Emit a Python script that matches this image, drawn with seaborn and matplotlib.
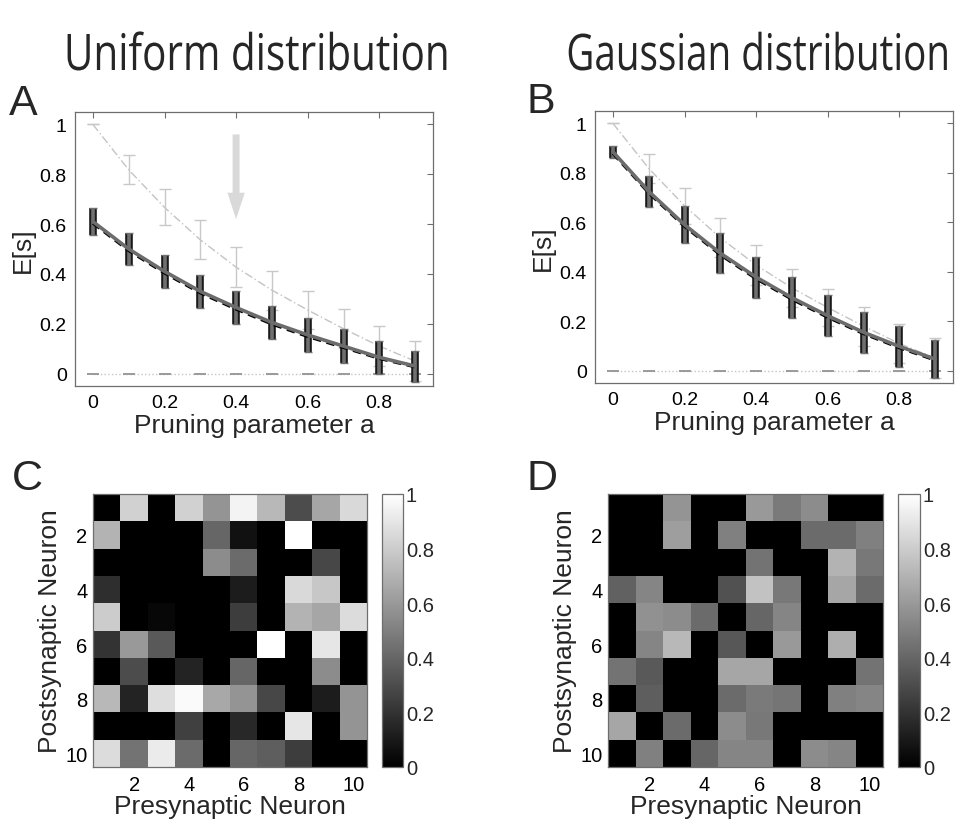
import matplotlib
matplotlib.use("Agg")
import matplotlib.pyplot as plt
import seaborn as sns
import numpy as np
from matplotlib.ticker import FuncFormatter
from matplotlib.patheffects import AbstractPathEffect
from matplotlib.transforms import Affine2D

# ---------------- data ----------------
pruning_a = [0.0, 0.1, 0.2, 0.3, 0.4, 0.5, 0.6, 0.7, 0.8, 0.9]

# light gray dash-dot reference curve (same in both panels)
ref_mean = [1.0, 0.818, 0.667, 0.537, 0.427, 0.335, 0.255, 0.18, 0.11, 0.05]
ref_err = [0.0, 0.058, 0.072, 0.079, 0.080, 0.078, 0.075, 0.079, 0.079, 0.080]

# zero baseline series
zero_mean = [0, 0, 0, 0, 0, 0, 0, 0, 0, 0]

# uniform distribution (panel A)
unif_solid = [0.61, 0.50, 0.41, 0.33, 0.265, 0.205, 0.155, 0.11, 0.065, 0.03]
unif_dashed = [0.603, 0.493, 0.403, 0.323, 0.258, 0.198, 0.148, 0.104, 0.060, 0.026]
unif_err = [0.053, 0.063, 0.067, 0.067, 0.068, 0.068, 0.070, 0.067, 0.066, 0.062]

# gaussian distribution (panel B)
gaus_solid = [0.885, 0.725, 0.59, 0.475, 0.378, 0.295, 0.222, 0.155, 0.098, 0.047]
gaus_dashed = [0.878, 0.718, 0.583, 0.468, 0.371, 0.288, 0.215, 0.149, 0.092, 0.042]
gaus_err = [0.024, 0.062, 0.075, 0.080, 0.083, 0.084, 0.083, 0.083, 0.083, 0.077]

x_ticks = [0, 0.2, 0.4, 0.6, 0.8]
y_ticks = [0, 0.2, 0.4, 0.6, 0.8, 1.0]

# weight matrices (rows: postsynaptic, cols: presynaptic)
uniform_W = [
    [0.00, 0.82, 0.00, 0.82, 0.58, 0.95, 0.72, 0.30, 0.65, 0.85],
    [0.70, 0.00, 0.00, 0.00, 0.40, 0.07, 0.00, 1.00, 0.00, 0.00],
    [0.00, 0.00, 0.00, 0.00, 0.55, 0.42, 0.00, 0.00, 0.28, 0.00],
    [0.18, 0.00, 0.00, 0.00, 0.00, 0.11, 0.00, 0.85, 0.78, 0.00],
    [0.80, 0.00, 0.03, 0.00, 0.00, 0.24, 0.00, 0.70, 0.65, 0.86],
    [0.20, 0.60, 0.35, 0.00, 0.00, 0.00, 1.00, 0.00, 0.90, 0.00],
    [0.00, 0.30, 0.00, 0.14, 0.00, 0.40, 0.00, 0.00, 0.55, 0.00],
    [0.72, 0.14, 0.87, 0.98, 0.66, 0.58, 0.28, 0.00, 0.11, 0.58],
    [0.00, 0.00, 0.00, 0.25, 0.00, 0.16, 0.00, 0.90, 0.00, 0.58],
    [0.86, 0.45, 0.92, 0.42, 0.00, 0.40, 0.37, 0.24, 0.00, 0.00],
]

gaussian_W = [
    [0.00, 0.00, 0.58, 0.00, 0.00, 0.60, 0.48, 0.55, 0.00, 0.00],
    [0.00, 0.00, 0.62, 0.00, 0.50, 0.00, 0.00, 0.42, 0.42, 0.50],
    [0.00, 0.00, 0.00, 0.00, 0.00, 0.45, 0.00, 0.00, 0.70, 0.47],
    [0.38, 0.52, 0.00, 0.00, 0.32, 0.76, 0.47, 0.00, 0.65, 0.42],
    [0.00, 0.57, 0.55, 0.42, 0.00, 0.40, 0.52, 0.00, 0.00, 0.00],
    [0.00, 0.52, 0.72, 0.00, 0.34, 0.00, 0.60, 0.00, 0.68, 0.00],
    [0.45, 0.35, 0.00, 0.00, 0.65, 0.65, 0.00, 0.00, 0.00, 0.45],
    [0.00, 0.37, 0.00, 0.00, 0.42, 0.48, 0.46, 0.00, 0.50, 0.52],
    [0.65, 0.00, 0.42, 0.00, 0.55, 0.47, 0.00, 0.00, 0.00, 0.00],
    [0.00, 0.50, 0.00, 0.40, 0.52, 0.52, 0.00, 0.55, 0.52, 0.00],
]
neuron_ticks = ["2", "4", "6", "8", "10"]
cbar_ticks = [0, 0.2, 0.4, 0.6, 0.8, 1.0]

titles = ["Uniform distribution", "Gaussian distribution"]
panel_letters = ["A", "B", "C", "D"]

# ---------------- style ----------------
sns.set_style("white")
plt.rcParams["font.family"] = ["Liberation Sans", "DejaVu Sans"]

SPINE = "#6e6e6e"
fmt = FuncFormatter(lambda v, p: "%g" % v)

fig = plt.figure(figsize=(9.73, 8.2), dpi=100)
W, H = 973.0, 820.0


def box(l, t, r, b):
    return [l / W, 1 - b / H, (r - l) / W, (b - t) / H]


def style_axes(ax):
    for s in ax.spines.values():
        s.set_visible(True)
        s.set_color(SPINE)
        s.set_linewidth(0.9)
    ax.tick_params(direction="in", length=4, width=0.8, color=SPINE,
                   top=True, right=True, labelsize=14, labelcolor="black",
                   pad=6)


def curve_panel(ax, solid, dashed, err, arrow=False):
    # reference curve
    sns.lineplot(x=pruning_a, y=ref_mean, ax=ax, color="#c4c4c4", lw=1.0,
                 linestyle=(0, (6, 2, 1, 2)), zorder=2)
    ax.errorbar(pruning_a, ref_mean, yerr=ref_err, fmt="none",
                ecolor="#c8c8c8", elinewidth=1.0, capsize=4, capthick=1.0,
                zorder=2)
    # zero baseline
    sns.lineplot(x=pruning_a, y=zero_mean, ax=ax, color="#c4c4c4", lw=1.0,
                 linestyle=":", zorder=2)
    ax.errorbar(pruning_a, zero_mean, yerr=[0] * len(pruning_a), fmt="none",
                ecolor="#9a9a9a", elinewidth=1.0, capsize=4, capthick=1.2,
                zorder=2)
    # simulation error bars
    ax.errorbar(pruning_a, solid, yerr=err, fmt="none", ecolor="#1a1a1a",
                elinewidth=5.5, capsize=0, zorder=3)
    ax.errorbar(pruning_a, solid, yerr=err, fmt="none", ecolor="#707070",
                elinewidth=2.6, capsize=3, capthick=1.0, zorder=4)
    # mean lines
    sns.lineplot(x=pruning_a, y=dashed, ax=ax, color="black", lw=2.0,
                 linestyle=(0, (3, 2)), zorder=5)
    sns.lineplot(x=pruning_a, y=solid, ax=ax, color="#6c6c6c", lw=2.6,
                 zorder=6)
    if arrow:
        ax.annotate("", xy=(0.4, 0.62), xytext=(0.4, 0.96),
                    arrowprops=dict(facecolor="#d9d9d9", edgecolor="none",
                                    width=5, headwidth=12.5, headlength=19),
                    zorder=7)
    ax.set_xlim(-0.05, 0.95)
    ax.set_ylim(-0.05, 1.05)
    ax.set_xticks(x_ticks)
    ax.set_yticks(y_ticks)
    ax.xaxis.set_major_formatter(fmt)
    ax.yaxis.set_major_formatter(fmt)
    ax.set_xlabel("Pruning parameter a", fontsize=19, labelpad=1)
    ax.set_ylabel("E[s]", fontsize=19, labelpad=3)
    style_axes(ax)


axA = fig.add_axes(box(75, 113, 433, 387))
curve_panel(axA, unif_solid, unif_dashed, unif_err, arrow=True)
axB = fig.add_axes(box(595, 112, 953, 384))
curve_panel(axB, gaus_solid, gaus_dashed, gaus_err)


def heat_panel(ax, cax, data):
    sns.heatmap(np.array(data), ax=ax, cbar_ax=cax, cmap="gray", vmin=0,
                vmax=1, xticklabels=False, yticklabels=False)
    pos = [1.5, 3.5, 5.5, 7.5, 9.5]
    ax.set_xticks(pos)
    ax.set_xticklabels(neuron_ticks)
    ax.set_yticks(pos)
    ax.set_yticklabels(neuron_ticks, rotation=0)
    ax.set_xlabel("Presynaptic Neuron", fontsize=19, labelpad=0)
    ax.set_ylabel("Postsynaptic Neuron", fontsize=19, labelpad=2)
    style_axes(ax)
    ax.tick_params(labelsize=14.5)
    ax.tick_params(axis="y", pad=4)
    cb = ax.collections[0].colorbar
    cb.outline.set_edgecolor(SPINE)
    cb.outline.set_linewidth(0.9)
    cb.set_ticks(cbar_ticks)
    cb.ax.yaxis.set_major_formatter(fmt)
    cax.tick_params(direction="in", length=4, width=0.8, color=SPINE,
                    left=True, right=True, labelsize=14.5, pad=2)


axC = fig.add_axes(box(93, 495, 367, 768))
caxC = fig.add_axes(box(382, 495, 403, 768))
heat_panel(axC, caxC, uniform_W)
axD = fig.add_axes(box(608, 495, 883, 768))
caxD = fig.add_axes(box(898, 495, 920, 768))
heat_panel(axD, caxD, gaussian_W)


class VStretch(AbstractPathEffect):
    """Vertically stretch text glyphs about their baseline (display px)."""

    def __init__(self, sy, by):
        super().__init__()
        self.sy = sy
        self.by = by

    def draw_path(self, renderer, gc, tpath, affine, rgbFace=None):
        t = affine + Affine2D().translate(0, -self.by).scale(1, self.sy) \
            .translate(0, self.by)
        renderer.draw_path(gc, tpath, t, rgbFace)


# titles: fit the width of the reference, then make them a bit taller
title_spans = [(64, 450), (566, 950)]
baseline_px = 71
cap_target = 36.0
title_artists = []
for txt, (x0, x1) in zip(titles, title_spans):
    t = fig.text((x0 + x1) / 2 / W, 1 - baseline_px / H, txt, ha="center",
                 va="baseline", fontsize=30, fontweight="normal",
                 family=["Open Sans", "DejaVu Sans"])
    title_artists.append((t, x1 - x0))
fig.canvas.draw()
renderer = fig.canvas.get_renderer()
for t, target in title_artists:
    bb = t.get_window_extent(renderer)
    size = 30 * target / bb.width
    t.set_fontsize(size)
    cap_px = 0.714 * size * 100 / 72.0
    t.set_path_effects([VStretch(cap_target / cap_px, H - baseline_px)])

for letter, (px, py) in zip(panel_letters,
                            [(9, 115), (527, 113), (12, 490), (527, 490)]):
    fig.text(px / W, 1 - py / H, letter, fontsize=31, va="baseline",
             ha="left")

fig.savefig("out.png", dpi=100)
